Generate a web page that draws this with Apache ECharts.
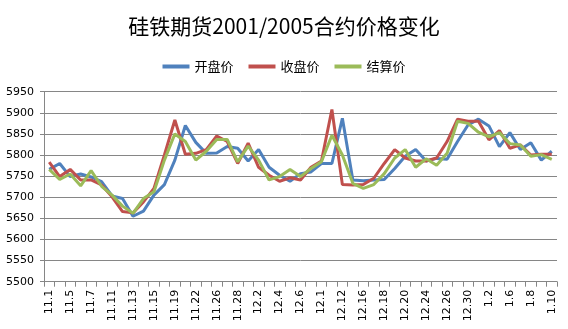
<!DOCTYPE html>
<html>
<head>
<meta charset="utf-8">
<script src="https://cdn.jsdelivr.net/npm/echarts@6/dist/echarts.min.js"></script>
<style>
html,body{margin:0;padding:0;background:#fff;}
#c{width:568px;height:329px;}
</style>
</head>
<body>
<div id="c"></div>
<script>
var categories = ["11.1","11.4","11.5","11.6","11.7","11.8","11.11","11.12","11.13","11.14","11.15","11.18","11.19","11.20","11.22","11.25","11.26","11.27","11.28","11.29","12.2","12.3","12.4","12.5","12.6","12.9","12.1","12.11","12.12","12.13","12.16","12.17","12.18","12.19","12.20","12.23","12.24","12.25","12.26","12.27","12.30","12.31","1.2","1.3","1.6","1.7","1.8","1.9","1.10"];
var openPrice = [5766,5780,5749,5755,5748,5737,5703,5697,5655,5667,5705,5730,5788,5870,5830,5804,5805,5820,5816,5786,5813,5771,5752,5738,5756,5760,5780,5780,5887,5741,5739,5741,5742,5768,5797,5813,5786,5792,5790,5832,5871,5885,5869,5820,5853,5813,5829,5788,5809];
var closePrice = [5783,5749,5766,5741,5741,5729,5701,5666,5663,5689,5721,5800,5883,5802,5804,5813,5845,5832,5780,5828,5771,5752,5738,5746,5741,5771,5786,5908,5730,5729,5730,5745,5780,5813,5793,5786,5786,5793,5832,5885,5880,5880,5836,5858,5816,5824,5800,5802,5802];
var settlePrice = [5766,5742,5755,5727,5763,5726,5705,5679,5662,5697,5713,5788,5850,5832,5788,5809,5837,5837,5784,5821,5788,5741,5749,5766,5749,5768,5784,5847,5800,5733,5721,5730,5756,5793,5813,5771,5791,5776,5804,5880,5875,5854,5843,5853,5827,5824,5797,5801,5790];
var seriesNames = ["开盘价","收盘价","结算价"];
var titleText = "硅铁期货2001/2005合约价格变化";

var chart = echarts.init(document.getElementById('c'), null, {renderer:'canvas'});
var colors = ['#4F81BD','#C0504D','#9BBB59'];
function mk(name, data, color){
  return {name:name, type:'line', data:data, symbol:'none', smooth:false,
    lineStyle:{color:color, width:3}, itemStyle:{color:color}};
}
chart.setOption({
  animation:false,
  title:{text:titleText, left:'center', top:11,
    textStyle:{fontFamily:'Noto Sans CJK SC', fontSize:21, fontWeight:'normal', color:'#000'}},
  legend:{top:55, left:'center', icon:'rect', itemWidth:27, itemHeight:4, itemGap:15,
    textStyle:{fontFamily:'Noto Sans CJK SC', fontSize:13, color:'#000'},
    data:seriesNames},
  grid:{left:44, right:11, top:91.7, bottom:47.3, containLabel:false},
  xAxis:{type:'category', data:categories, boundaryGap:true,
    axisLine:{lineStyle:{color:'#868686', width:1}},
    axisTick:{show:true, interval:0, length:5, alignWithLabel:false, lineStyle:{color:'#868686'}},
    axisLabel:{interval:1, rotate:90, margin:8, fontFamily:'DejaVu Sans', fontSize:11, color:'#000'},
    splitLine:{show:false}},
  yAxis:{type:'value', min:5500, max:5950, interval:50,
    axisLine:{show:true, lineStyle:{color:'#868686', width:1}},
    axisTick:{show:true, length:4, lineStyle:{color:'#868686'}},
    axisLabel:{margin:10, fontFamily:'DejaVu Sans', fontSize:11, color:'#000',
      formatter:function(v){return String(v);}},
    splitLine:{show:true, lineStyle:{color:'#868686', width:1}}},
  series:[mk(seriesNames[0], openPrice, colors[0]), mk(seriesNames[1], closePrice, colors[1]), mk(seriesNames[2], settlePrice, colors[2])]
});
</script>
</body>
</html>
